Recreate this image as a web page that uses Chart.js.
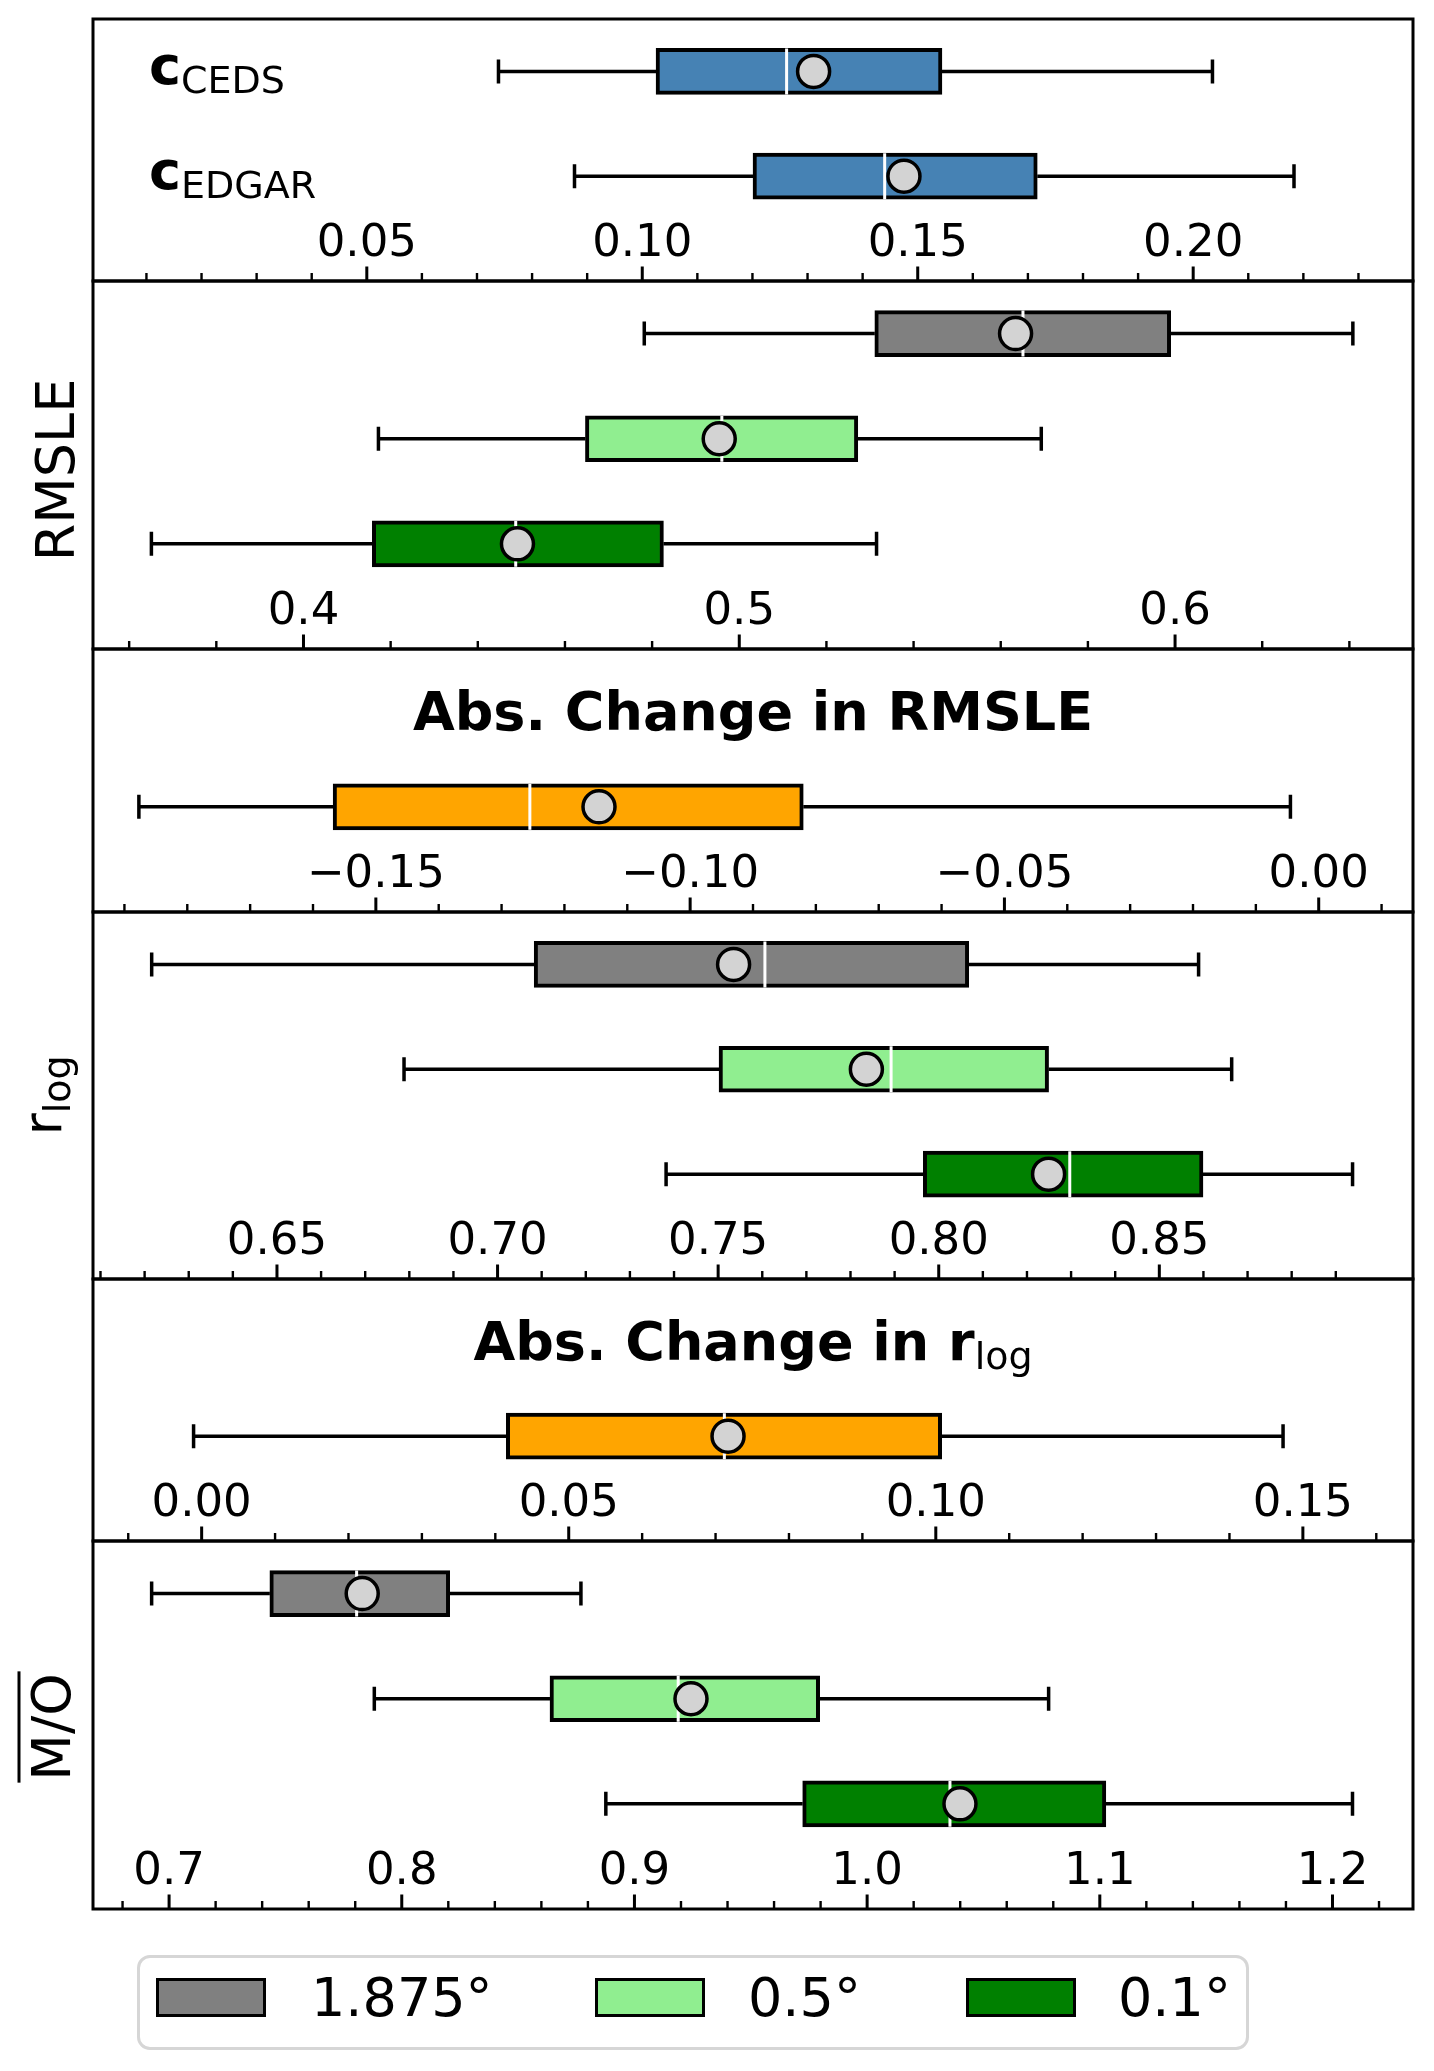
<!DOCTYPE html>
<html>
<head>
<meta charset="utf-8">
<title>Resolution comparison box plots</title>
<script src="https://cdn.jsdelivr.net/npm/chart.js@4.4.1/dist/chart.umd.min.js"></script>
<style>
  html, body { margin: 0; padding: 0; background: #fff; }
  #fig { position: relative; width: 1434px; height: 2071px; overflow: hidden; }
  #fig canvas { position: absolute; left: 0; }
  #legend { position: absolute; left: 137px; top: 1955px; width: 1112px; height: 95px; box-sizing: border-box;
            border: 3px solid #d6d6d6; border-radius: 13px; font-family: 'DejaVu Sans', sans-serif; font-size: 54px; }
  #legend .sw { position: absolute; top: 20px; width: 110px; height: 39px; box-sizing: border-box; border: 3.5px solid #000; }
  #legend .lb { position: absolute; top: 13px; line-height: 54px; white-space: nowrap; color: #000; }
</style>
</head>
<body>
<div id="fig"><div id="legend"></div></div>
<script>
// ---- data ----
const RES_NAMES = ['1.875°', '0.5°', '0.1°'];
const RES_COLORS = ['#808080', '#90ee90', '#008000'];

// scaling factors c
const C_ROWS = ['CEDS', 'EDGAR'];
const C_LOW  = [0.0739, 0.0877];
const C_Q1   = [0.1025, 0.1201];
const C_MED  = [0.1262, 0.1440];
const C_Q3   = [0.1544, 0.1717];
const C_HIGH = [0.2035, 0.2183];
const C_MEAN = [0.1311, 0.1475];
const C_TICKS = [0.05, 0.10, 0.15, 0.20];

// RMSLE per resolution
const RMSLE_LOW  = [0.4782, 0.4172, 0.3651];
const RMSLE_Q1   = [0.5311, 0.4647, 0.4158];
const RMSLE_MED  = [0.5651, 0.4960, 0.4487];
const RMSLE_Q3   = [0.5990, 0.5272, 0.4826];
const RMSLE_HIGH = [0.6408, 0.5693, 0.5315];
const RMSLE_MEAN = [0.5634, 0.4954, 0.4491];
const RMSLE_TICKS = [0.4, 0.5, 0.6];

// abs. change in RMSLE
const DRMSLE_LOW  = [-0.1877];
const DRMSLE_Q1   = [-0.1568];
const DRMSLE_MED  = [-0.1255];
const DRMSLE_Q3   = [-0.0820];
const DRMSLE_HIGH = [-0.0045];
const DRMSLE_MEAN = [-0.1145];
const DRMSLE_TICKS = [-0.15, -0.10, -0.05, 0.00];

// r_log per resolution
const RLOG_LOW  = [0.6216, 0.6788, 0.7382];
const RLOG_Q1   = [0.7083, 0.7502, 0.7965];
const RLOG_MED  = [0.7606, 0.7892, 0.8297];
const RLOG_Q3   = [0.8068, 0.8249, 0.8599];
const RLOG_HIGH = [0.8589, 0.8664, 0.8938];
const RLOG_MEAN = [0.7535, 0.7836, 0.8249];
const RLOG_TICKS = [0.65, 0.70, 0.75, 0.80, 0.85];

// abs. change in r_log
const DRLOG_LOW  = [-0.0011];
const DRLOG_Q1   = [0.0415];
const DRLOG_MED  = [0.0712];
const DRLOG_Q3   = [0.1008];
const DRLOG_HIGH = [0.1473];
const DRLOG_MEAN = [0.0717];
const DRLOG_TICKS = [0.00, 0.05, 0.10, 0.15];

// mean M/O per resolution
const MO_LOW  = [0.6925, 0.7882, 0.8877];
const MO_Q1   = [0.7433, 0.8637, 0.9723];
const MO_MED  = [0.7806, 0.9188, 1.0356];
const MO_Q3   = [0.8206, 0.9796, 1.1026];
const MO_HIGH = [0.8770, 1.0780, 1.2086];
const MO_MEAN = [0.7830, 0.9243, 1.0399];
const MO_TICKS = [0.7, 0.8, 0.9, 1.0, 1.1, 1.2];

// ---- layout / style ----
const FONT = "'DejaVu Sans', sans-serif";
const MAIN = `54px ${FONT}`, BOLD = `bold 54px ${FONT}`, SUB = `38px ${FONT}`;
const EDGES = [19, 281, 649, 912, 1279, 1541, 1909];
const PAD = 30;
const STEEL = '#4682b4', ORANGE = '#ffa500', MEAN_FILL = '#d3d3d3';

const txt = (text, font = MAIN) => ({ text, font, dy: 0 });
const sub = text => ({ text, font: SUB, dy: 9 });

const PANELS = [
  { yRange: [0.5, 3.0], xRange: [0.0003, 0.2399], ticks: C_TICKS, dec: 2, minor: 0.01,
    low: C_LOW, q1: C_Q1, med: C_MED, q3: C_Q3, high: C_HIGH, mean: C_MEAN,
    colors: C_ROWS.map(() => STEEL), rows: C_ROWS.map(r => [txt('c', BOLD), sub(r)]) },
  { yRange: [0.5, 4.0], xRange: [0.3517, 0.6546], ticks: RMSLE_TICKS, dec: 1, minor: 0.02,
    low: RMSLE_LOW, q1: RMSLE_Q1, med: RMSLE_MED, q3: RMSLE_Q3, high: RMSLE_HIGH, mean: RMSLE_MEAN,
    colors: RES_COLORS, side: { x: 74, shift: 5, runs: [txt('RMSLE')] } },
  { yRange: [-0.5, 2.0], xRange: [-0.195, 0.015], ticks: DRMSLE_TICKS, dec: 2, minor: 0.01,
    low: DRMSLE_LOW, q1: DRMSLE_Q1, med: DRMSLE_MED, q3: DRMSLE_Q3, high: DRMSLE_HIGH, mean: DRMSLE_MEAN,
    colors: [ORANGE], title: [txt('Abs. Change in RMSLE', BOLD)] },
  { yRange: [0.5, 4.0], xRange: [0.6083, 0.9075], ticks: RLOG_TICKS, dec: 2, minor: 0.01,
    low: RLOG_LOW, q1: RLOG_Q1, med: RLOG_MED, q3: RLOG_Q3, high: RLOG_HIGH, mean: RLOG_MEAN,
    colors: RES_COLORS, side: { x: 61, shift: 0, runs: [txt('r'), sub('log')] } },
  { yRange: [-0.5, 2.0], xRange: [-0.0148, 0.165], ticks: DRLOG_TICKS, dec: 2, minor: 0.01,
    low: DRLOG_LOW, q1: DRLOG_Q1, med: DRLOG_MED, q3: DRLOG_Q3, high: DRLOG_HIGH, mean: DRLOG_MEAN,
    colors: [ORANGE], title: [txt('Abs. Change in r', BOLD), sub('log')] },
  { yRange: [0.5, 4.0], xRange: [0.6673, 1.2346], ticks: MO_TICKS, dec: 1, minor: 0.02,
    low: MO_LOW, q1: MO_Q1, med: MO_MED, q3: MO_Q3, high: MO_HIGH, mean: MO_MEAN,
    colors: RES_COLORS, side: { x: 70, shift: 2, runs: [txt('M/O')], overline: true } },
];

function runsWidth(ctx, runs) {
  let w = 0;
  for (const r of runs) { ctx.font = r.font; w += ctx.measureText(r.text).width; }
  return w;
}
function drawRuns(ctx, runs, x, y, centered) {
  let cx = centered ? x - runsWidth(ctx, runs) / 2 : x;
  ctx.textAlign = 'left';
  ctx.textBaseline = 'alphabetic';
  ctx.fillStyle = '#000';
  for (const r of runs) {
    ctx.font = r.font;
    ctx.fillText(r.text, cx, y + r.dy);
    cx += ctx.measureText(r.text).width;
  }
}

function boxParts(p) {
  return {
    id: 'boxParts',
    beforeDatasetsDraw(chart) {
      const { ctx, scales: { x, y } } = chart;
      ctx.save();
      ctx.strokeStyle = '#000';
      ctx.lineWidth = 3.5;
      ctx.beginPath();
      p.pos.forEach((pos, i) => {
        const yc = y.getPixelForValue(pos);
        const lo = x.getPixelForValue(p.low[i]), hi = x.getPixelForValue(p.high[i]);
        ctx.moveTo(lo, yc); ctx.lineTo(x.getPixelForValue(p.q1[i]), yc);
        ctx.moveTo(x.getPixelForValue(p.q3[i]), yc); ctx.lineTo(hi, yc);
        ctx.moveTo(lo, yc - 12); ctx.lineTo(lo, yc + 12);
        ctx.moveTo(hi, yc - 12); ctx.lineTo(hi, yc + 12);
      });
      ctx.stroke();
      ctx.restore();
    },
    afterDatasetDraw(chart, args) {
      if (args.meta.type !== 'bar') return;
      const { ctx, scales: { x, y } } = chart;
      ctx.save();
      ctx.strokeStyle = '#fff';
      ctx.lineWidth = 3;
      ctx.beginPath();
      p.pos.forEach((pos, i) => {
        const yc = y.getPixelForValue(pos), xm = x.getPixelForValue(p.med[i]);
        ctx.moveTo(xm, yc - 23); ctx.lineTo(xm, yc + 23);
      });
      ctx.stroke();
      ctx.restore();
    },
    afterDraw(chart) {
      const { ctx, chartArea: a, scales: { x, y } } = chart;
      ctx.save();
      ctx.strokeStyle = '#000';
      // inward ticks on the bottom spine
      const majorStep = p.ticks[1] - p.ticks[0];
      ctx.lineWidth = 3;
      ctx.beginPath();
      x.ticks.forEach(t => {
        const px = x.getPixelForValue(t.value);
        ctx.moveTo(px, a.bottom); ctx.lineTo(px, a.bottom - 14.5);
      });
      ctx.stroke();
      ctx.lineWidth = 2.4;
      ctx.beginPath();
      for (let k = Math.ceil(x.min / p.minor - 1e-9); k * p.minor <= x.max + 1e-12; k++) {
        const v = k * p.minor, r = v / majorStep;
        if (Math.abs(r - Math.round(r)) < 1e-6) continue;
        const px = x.getPixelForValue(v);
        ctx.moveTo(px, a.bottom); ctx.lineTo(px, a.bottom - 8);
      }
      ctx.stroke();
      // frame
      ctx.lineWidth = 3;
      ctx.strokeRect(a.left, a.top, a.right - a.left, a.bottom - a.top);
      // texts
      if (p.rows) p.rows.forEach((runs, i) => drawRuns(ctx, runs, 149, y.getPixelForValue(p.pos[i]) + 13, false));
      if (p.title) drawRuns(ctx, p.title, (a.left + a.right) / 2, a.top + 81, true);
      if (p.side) {
        ctx.translate(p.side.x, (a.top + a.bottom) / 2 + p.side.shift);
        ctx.rotate(-Math.PI / 2);
        drawRuns(ctx, p.side.runs, 0, 0, true);
        if (p.side.overline) {
          const w = runsWidth(ctx, p.side.runs);
          ctx.lineWidth = 3;
          ctx.beginPath();
          ctx.moveTo(-w / 2 - 2, -51); ctx.lineTo(w / 2 + 2, -51);
          ctx.stroke();
        }
      }
      ctx.restore();
    },
  };
}

const fig = document.getElementById('fig');

PANELS.forEach((p, n) => {
  const top = EDGES[n], bottom = EDGES[n + 1];
  p.pos = p.low.map((_, i) => i + 1);
  const canvas = document.createElement('canvas');
  canvas.width = 1434;
  canvas.height = bottom - top + 2 * PAD;
  canvas.style.top = (top - PAD) + 'px';
  fig.insertBefore(canvas, fig.firstChild);

  new Chart(canvas.getContext('2d'), {
    type: 'bar',
    data: {
      datasets: [
        {
          type: 'bar',
          data: p.pos.map((pos, i) => ({ x: [p.q1[i], p.q3[i]], y: pos })),
          backgroundColor: p.colors,
          borderColor: '#000',
          borderWidth: 4,
          borderSkipped: false,
          barThickness: 46,
          order: 2,
        },
        {
          type: 'scatter',
          data: p.pos.map((pos, i) => ({ x: p.mean[i], y: pos })),
          pointRadius: 16,
          pointBackgroundColor: MEAN_FILL,
          pointBorderColor: '#000',
          pointBorderWidth: 3.5,
          order: 0,
        },
      ],
    },
    plugins: [boxParts(p)],
    options: {
      indexAxis: 'y',
      responsive: false,
      animation: false,
      events: [],
      layout: { padding: { top: PAD, bottom: PAD, left: 93, right: 21 } },
      plugins: { legend: { display: false }, tooltip: { enabled: false } },
      scales: {
        y: { type: 'linear', min: p.yRange[0], max: p.yRange[1], reverse: true, offset: false, display: false },
        x: {
          type: 'linear',
          position: 'bottom',
          min: p.xRange[0],
          max: p.xRange[1],
          beginAtZero: false,
          afterBuildTicks: s => { s.ticks = p.ticks.map(v => ({ value: v })); },
          afterFit: s => { s.height = 0; },
          grid: { display: false, drawTicks: false },
          border: { display: false },
          ticks: {
            mirror: true,
            padding: 10,
            autoSkip: false,
            maxRotation: 0,
            color: '#000',
            font: { family: FONT, size: 45, lineHeight: 1.2 },
            callback: v => v.toFixed(p.dec).replace('-', '\u2212'),
          },
        },
      },
    },
  });
});

// legend
const legend = document.getElementById('legend');
const SW_X = [16, 455, 826], LB_X = [171, 608, 978];
RES_NAMES.forEach((name, i) => {
  const sw = document.createElement('div');
  sw.className = 'sw';
  sw.style.left = SW_X[i] + 'px';
  sw.style.background = RES_COLORS[i];
  const lb = document.createElement('div');
  lb.className = 'lb';
  lb.style.left = LB_X[i] + 'px';
  lb.textContent = name;
  legend.appendChild(sw);
  legend.appendChild(lb);
});
</script>
</body>
</html>
